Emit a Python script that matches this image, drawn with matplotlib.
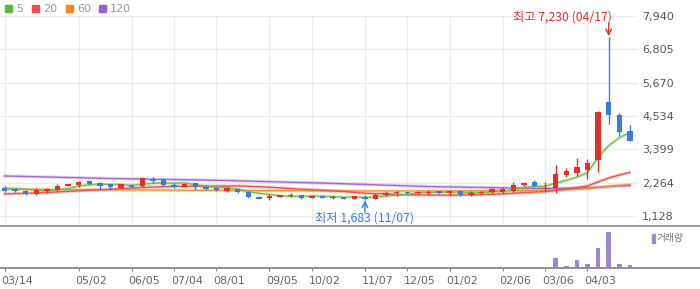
import matplotlib
matplotlib.use('Agg')
import matplotlib.pyplot as plt
from matplotlib.patches import Rectangle
from matplotlib.lines import Line2D
from matplotlib.transforms import ScaledTranslation
import numpy as np

# ---------------- data (weekly candles) ----------------
opens = [2092, 2048, 1990, 1878, 1980, 2024, 2150, 2184, 2320, 2262,
         2208, 2092, 2184, 2160, 2388, 2354, 2184, 2126, 2242, 2126,
         2092, 1990, 2048, 1935, 1775, 1731, 1786, 1810, 1843, 1754,
         1810, 1754, 1775, 1698, 1786, 1698, 1830, 1900, 1935, 1900,
         1900, 1980, 1924, 1980, 1843, 1900, 1956, 1960, 1980, 2184,
         2296, 2062, 2072, 2525, 2600, 2695, 3035, 5021, 4568, 4022]
closes = [1980, 1990, 1878, 2014, 2048, 2160, 2218, 2296, 2228, 2160,
          2116, 2208, 2126, 2432, 2320, 2184, 2126, 2218, 2126, 2048,
          2004, 2072, 1935, 1765, 1720, 1820, 1843, 1843, 1754, 1810,
          1754, 1786, 1720, 1810, 1720, 1843, 1924, 1924, 1910, 1956,
          1956, 1924, 1980, 1843, 1924, 1956, 2048, 2048, 2184, 2262,
          2150, 2072, 2558, 2660, 2806, 2923, 4670, 4568, 4000, 3693]
highs = [2160, 2072, 2000, 2072, 2092, 2218, 2225, 2330, 2354, 2296,
         2208, 2225, 2228, 2466, 2446, 2412, 2242, 2242, 2260, 2184,
         2125, 2116, 2080, 1945, 1810, 1866, 1850, 1900, 1850, 1820,
         1815, 1843, 1780, 1815, 1843, 1900, 1970, 1980, 1945, 1990,
         2014, 1990, 1990, 1990, 1980, 1990, 2092, 2116, 2276, 2296,
         2354, 2296, 2865, 2750, 3092, 3060, 4700, 7230, 4626, 4228]
lows = [1958, 1956, 1854, 1844, 1902, 1990, 2140, 2125, 2184, 2048,
        2014, 2080, 2092, 2126, 2242, 2150, 2072, 2100, 2014, 2014,
        1980, 1956, 1902, 1731, 1710, 1686, 1780, 1786, 1720, 1745,
        1745, 1710, 1700, 1690, 1683, 1695, 1800, 1820, 1870, 1870,
        1843, 1890, 1843, 1820, 1820, 1876, 1900, 1900, 1956, 2150,
        2126, 1945, 1925, 2466, 2500, 2380, 2637, 4262, 3863, 3693]
volumes = [5, 5, 5, 30, 30, 30, 5, 30, 5, 5,
           5, 5, 5, 30, 30, 30, 30, 5, 5, 5,
           5, 5, 5, 30, 30, 5, 5, 5, 5, 5,
           5, 5, 5, 5, 5, 5, 5, 5, 5, 5,
           5, 5, 5, 5, 5, 5, 30, 5, 30, 5,
           30, 30, 300, 60, 240, 110, 600, 1080, 120, 90]

ma5 = [2070, 2060, 2035, 2010, 1982, 2018, 2064, 2147, 2190, 2212,
       2204, 2202, 2168, 2208, 2240, 2254, 2238, 2256, 2195, 2140,
       2104, 2094, 2037, 1965, 1899, 1862, 1817, 1798, 1796, 1814,
       1801, 1789, 1765, 1776, 1758, 1776, 1803, 1844, 1864, 1911,
       1934, 1934, 1945, 1932, 1925, 1925, 1950, 1964, 2032, 2100,
       2138, 2143, 2245, 2340, 2449, 2604, 3123, 3525, 3793, 3971]
ma20 = [1880, 1890, 1900, 1915, 1930, 1945, 1965, 1985, 2005, 2020,
        2040, 2060, 2080, 2100, 2115, 2125, 2135, 2140, 2143, 2144,
        2145, 2149, 2152, 2140, 2123, 2106, 2087, 2065, 2041, 2024,
        2005, 1984, 1964, 1933, 1903, 1886, 1876, 1861, 1850, 1846,
        1843, 1836, 1838, 1842, 1852, 1859, 1869, 1880, 1901, 1924,
        1943, 1958, 2000, 2042, 2096, 2150, 2288, 2420, 2524, 2611]
ma60 = [2040, 2038, 2036, 2034, 2032, 2030, 2028, 2026, 2024, 2022,
        2020, 2018, 2016, 2014, 2012, 2010, 2008, 2006, 2004, 2002,
        2000, 1998, 1996, 1994, 1993, 1992, 1990, 1989, 1988, 1987,
        1986, 1985, 1984, 1983, 1982, 1981, 1980, 1980, 1980, 1980,
        1980, 1981, 1982, 1983, 1985, 1987, 1989, 1991, 1994, 1998,
        2002, 2004, 2013, 2024, 2037, 2052, 2096, 2139, 2172, 2200]
ma120 = [2490, 2482, 2473, 2465, 2456, 2448, 2439, 2431, 2422, 2414,
         2405, 2399, 2393, 2387, 2381, 2375, 2369, 2363, 2357, 2351,
         2345, 2336, 2326, 2317, 2307, 2298, 2288, 2279, 2269, 2260,
         2250, 2238, 2226, 2214, 2202, 2190, 2178, 2166, 2154, 2142,
         2130, 2124, 2118, 2112, 2106, 2100, 2094, 2088, 2082, 2076,
         2070, 2068, 2070, 2074, 2080, 2086, 2108, 2129, 2146, 2160]

x_tick_idx = [0, 7, 12, 16, 20, 25, 29, 34, 38, 42, 47, 51, 55]
x_tick_labels = ['03/14', '05/02', '06/05', '07/04', '08/01', '09/05', '10/02',
                 '11/07', '12/05', '01/02', '02/06', '03/06', '04/03']
price_ticks = [1128, 2264, 3399, 4534, 5670, 6805, 7940]
price_tick_labels = ['1,128', '2,264', '3,399', '4,534', '5,670', '6,805', '7,940']
ma_names = ['5', '20', '60', '120']

high_idx, high_val, high_text = 57, 7230, '최고 7,230 (04/17)'
low_idx, low_val, low_text = 34, 1683, '최저 1,683 (11/07)'

# ---------------- style ----------------
RED = '#e2302a'
BLUE = '#3b7bd9'
MA_COLORS = ['#6cc04a', '#f04a4a', '#f7901e', '#a064d2']
LEG_COLORS = ['#58b83c', '#f04a4a', '#f7861b', '#9a5fce']
GRID = '#ececec'
KFONT = ['Noto Sans CJK KR', 'DejaVu Sans']

W, H = 700, 289
fig = plt.figure(figsize=(W / 100, H / 100), dpi=100)


def fx(px):
    return px / W


def fy(py):
    return 1 - py / H


ax = fig.add_axes([0, fy(225.7), fx(638), fy(16) - fy(225.7)])
axv = fig.add_axes([0, fy(268), fx(638), fy(226) - fy(268)], sharex=ax)

x = np.arange(len(closes))
o = np.array(opens, float)
c = np.array(closes, float)
hi = np.array(highs, float)
lo = np.array(lows, float)
up = c >= o
colors = np.where(up, RED, BLUE)

# moving averages
for vals, col in zip([ma120, ma60, ma20, ma5], MA_COLORS[::-1]):
    ax.plot(x, vals, color=col, lw=2.4, alpha=0.25, solid_capstyle='round', zorder=2)
    ax.plot(x, vals, color=col, lw=1.0, alpha=0.95, zorder=2.1)

# candles
ax.vlines(x, lo, hi, colors=colors, lw=1, zorder=3)
body = np.maximum(np.abs(c - o), 30)
ax.bar(x, body, bottom=np.minimum(o, c), width=0.52, color=colors, lw=0, zorder=4)

ax.set_xlim(-4.5 / 10.6, (638 - 4.5) / 10.6)
ax.set_ylim(797, 7940)
ax.set_yticks(price_ticks)
ax.set_yticklabels(price_tick_labels)
ax.yaxis.tick_right()
ax.tick_params(axis='y', length=0, pad=3, labelsize=8, labelcolor='#555555')
ax.set_xticks(x_tick_idx)
ax.tick_params(axis='x', length=0, labelbottom=False)
ax.grid(True, color=GRID, lw=1)
ax.set_axisbelow(True)
for s in ax.spines.values():
    s.set_visible(False)

# high / low annotations
ax.annotate('', xy=(high_idx, high_val), xytext=(0, 10), textcoords='offset points',
            arrowprops=dict(arrowstyle='->', color=RED, lw=1, shrinkA=0, shrinkB=0.5),
            annotation_clip=False)
ax.annotate(high_text, xy=(high_idx, high_val), xytext=(2.5, 14.3), textcoords='offset points',
            ha='right', va='center', color=RED, fontsize=8.8, family=KFONT, annotation_clip=False)
ax.annotate('', xy=(low_idx, low_val), xytext=(0, -9), textcoords='offset points',
            arrowprops=dict(arrowstyle='->', color=BLUE, lw=1, shrinkA=0, shrinkB=0.5),
            annotation_clip=False)
ax.annotate(low_text, xy=(low_idx, low_val), xytext=(0, -13), textcoords='offset points',
            ha='center', va='center', color=BLUE, fontsize=8.8, family=KFONT, annotation_clip=False)

# volume
axv.bar(x, volumes, width=0.42, color='#9d88c9', lw=0)
axv.set_ylim(0, 1260)
axv.set_yticks([])
for s in axv.spines.values():
    s.set_visible(False)
axv.set_xticks(x_tick_idx)
axv.set_xticklabels(x_tick_labels, ha='left')
axv.tick_params(axis='x', length=2.5, width=0.8, color='#888888', pad=3,
                labelsize=8, labelcolor='#666666')
shift = ScaledTranslation(-3 / 100, 0, fig.dpi_scale_trans)
for lbl in axv.get_xticklabels():
    lbl.set_transform(lbl.get_transform() + shift)

# separator lines
fig.add_artist(Line2D([0, 1], [fy(225.5), fy(225.5)], color='#9a9a9a', lw=1.4, transform=fig.transFigure))
fig.add_artist(Line2D([0, 1], [fy(268), fy(268)], color='#8a9099', lw=1.4, transform=fig.transFigure))

# top legend
lx = [5, 32, 66, 99]
for px, name, col in zip(lx, ma_names, LEG_COLORS):
    fig.add_artist(Rectangle((fx(px), fy(12)), fx(7), 7 / H, color=col, transform=fig.transFigure))
    fig.text(fx(px + 11), fy(8.5), name, va='center', ha='left', color='#999999', fontsize=8)

# volume legend
fig.add_artist(Rectangle((fx(652), fy(243)), fx(2.5), 9 / H, color='#9d88c9', transform=fig.transFigure))
fig.text(fx(657), fy(238.5), '거래량', va='center', ha='left', color='#777777', fontsize=7, family=KFONT)

fig.savefig('out.png', dpi=100)
